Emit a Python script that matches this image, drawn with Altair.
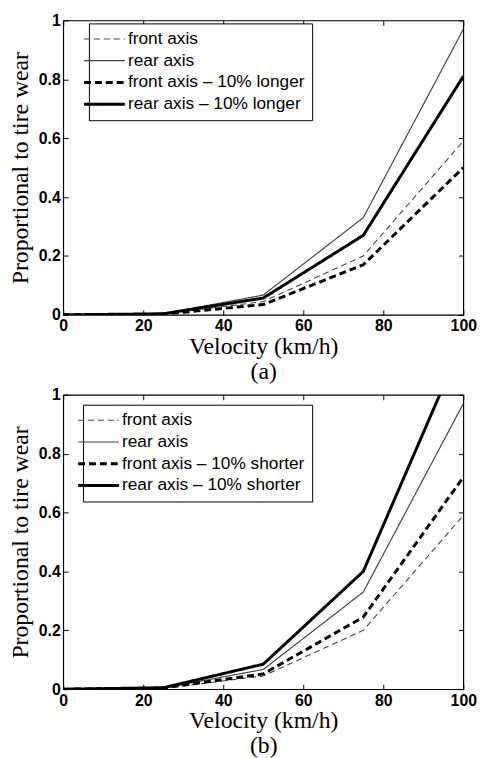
import altair as alt
import pandas as pd

velocity = [0, 25, 50, 75, 100]
front = [0, 0.003, 0.045, 0.20, 0.59]
rear = [0, 0.004, 0.067, 0.33, 0.97]
front_longer = [0, 0.002, 0.035, 0.17, 0.50]
rear_longer = [0, 0.0035, 0.057, 0.27, 0.81]
front_shorter = [0, 0.004, 0.052, 0.245, 0.72]
rear_shorter = [0, 0.005, 0.085, 0.40, 1.185]

labels_a = ["front axis", "rear axis", "front axis \u2013 10% longer", "rear axis \u2013 10% longer"]
labels_b = ["front axis", "rear axis", "front axis \u2013 10% shorter", "rear axis \u2013 10% shorter"]
line_widths = [1.1, 1.2, 3, 3]
x_ticks = [0, 20, 40, 60, 80, 100]
y_ticks = [0, 0.2, 0.4, 0.6, 0.8, 1]

SERIF = "Liberation Serif"
SANS = "Liberation Sans"


def panel(series, labels, cap, lx, ly):
    rows = []
    for name, vals, lw in zip(labels, series, line_widths):
        for v, w in zip(velocity, vals):
            rows.append({"v": v, "w": w, "s": name, "lw": lw})
    df = pd.DataFrame(rows)
    sig = "indexof(" + str(labels) + ", datum.value) >= 2 ? 3 : 1.2"
    leg = alt.Legend(
        title=None, orient="none", legendX=lx, legendY=ly,
        symbolType="stroke", symbolSize=1700, labelFont=SANS, labelFontSize=17.5,
        labelColor="black", strokeColor="black", fillColor="white", labelLimit=400,
        padding=7, rowPadding=3, labelOffset=15, symbolStrokeColor="black",
        symbolStrokeWidth=alt.ExprRef(expr=sig),
    )
    xscale = alt.Scale(domain=[0, 100], nice=False)
    yscale = alt.Scale(domain=[0, 1], nice=False)
    lines = alt.Chart(df).mark_line(clip=True, strokeCap="butt").encode(
        x=alt.X("v:Q", scale=xscale, axis=alt.Axis(
            values=x_ticks, title=["Velocity (km/h)", cap], titleFont=SERIF,
            titleFontSize=24, titleFontWeight="normal", titleColor="black",
            titleLineHeight=25, titlePadding=1,
            labelFont=SANS, labelFontSize=16, labelFontWeight="bold", labelColor="black",
            domain=False, grid=False, tickSize=5, offset=-5, tickColor="black",
            labelPadding=3, labelFlush=False)),
        y=alt.Y("w:Q", scale=yscale, axis=alt.Axis(
            values=y_ticks, format="~g", title="Proportional to tire wear", titleFont=SERIF,
            titleFontSize=24, titleFontWeight="normal", titleColor="black", titlePadding=6,
            labelFont=SANS, labelFontSize=16, labelFontWeight="bold", labelColor="black",
            domain=False, grid=False, tickSize=5, offset=-5, tickColor="black",
            labelPadding=3, labelFlush=False)),
        strokeDash=alt.StrokeDash("s:N", scale=alt.Scale(domain=labels, range=[[6, 4], [1, 0], [7, 4], [1, 0]]), legend=leg, sort=labels),
        color=alt.Color("s:N", scale=alt.Scale(domain=labels, range=["#444444", "#444444", "black", "black"]), legend=leg, sort=labels),
        strokeWidth=alt.StrokeWidth("lw:Q", scale=None, legend=None),
    )
    frame = alt.Chart(df).mark_point(opacity=0).encode(
        x=alt.X("v:Q", scale=xscale, axis=alt.Axis(
            orient="top", values=x_ticks, labels=False, title=None, domain=False, grid=False,
            tickSize=5, offset=-5, tickColor="black")),
        y=alt.Y("w:Q", scale=yscale, axis=alt.Axis(
            orient="right", values=y_ticks, labels=False, title=None, domain=False, grid=False,
            tickSize=5, offset=-5, tickColor="black")),
    )
    return alt.layer(lines, frame).resolve_axis(x="independent", y="independent").properties(
        width=405, height=298)


top = panel([front, rear, front_longer, rear_longer], labels_a, "(a)", 26, 3)
bottom = panel([front, rear, front_shorter, rear_shorter], labels_b, "(b)", 20, 10)

chart = alt.vconcat(top, bottom, spacing=81, bounds="flush").resolve_scale(
    strokeDash="independent", color="independent"
).resolve_legend(strokeDash="independent", color="independent").properties(
    padding={"left": 8, "top": 7, "right": 10, "bottom": 0}, background="white"
).configure_view(stroke="black", strokeWidth=1.2)

chart.save("out.html", embed_options={"renderer": "svg", "actions": False})
